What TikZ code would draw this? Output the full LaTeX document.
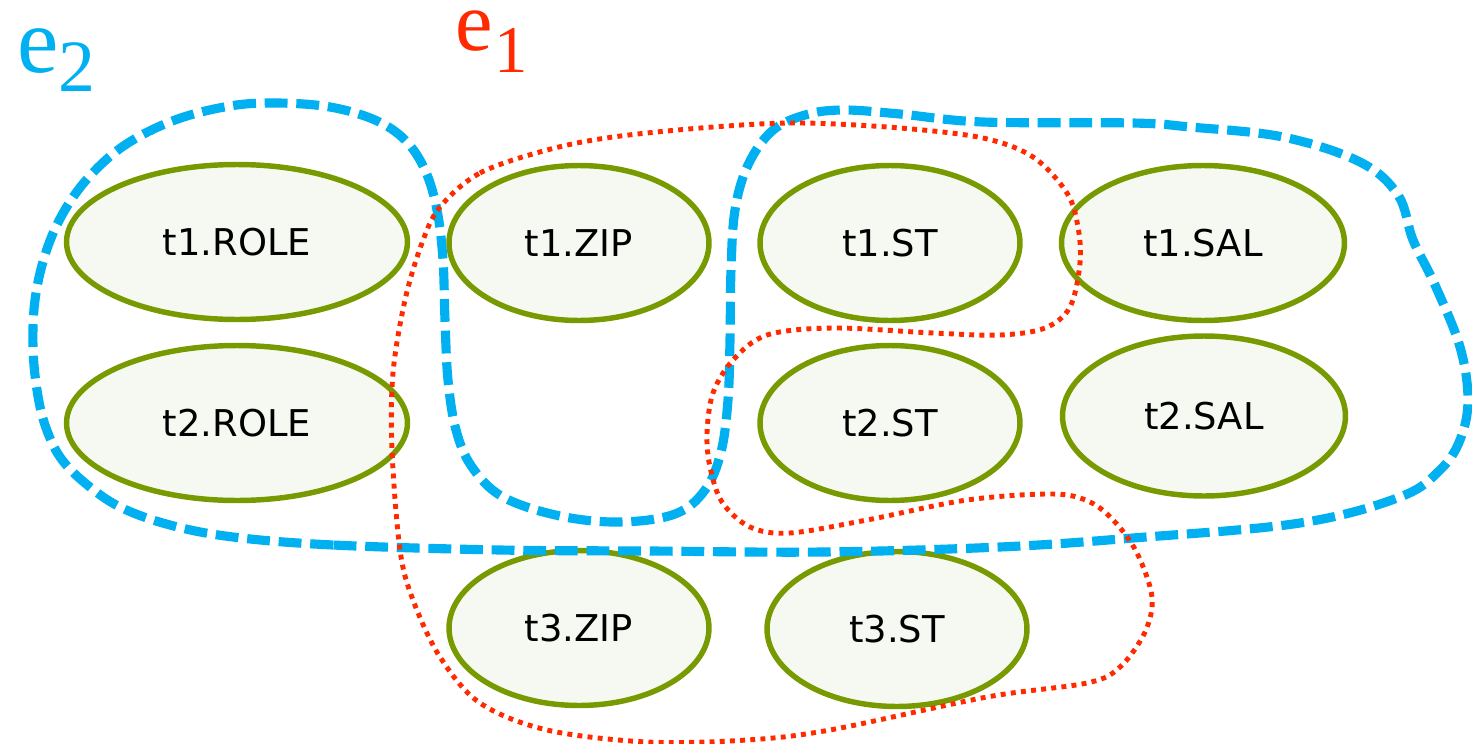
\documentclass[tikz,border=0pt]{standalone}
\usepackage{fontspec}
\setmainfont{DejaVu Sans}
\newfontfamily\serifface{Liberation Serif}
\usetikzlibrary{shapes.geometric}
\definecolor{olv}{HTML}{769A00}
\definecolor{ellfill}{HTML}{F6F9F1}
\definecolor{cyanb}{HTML}{00B0F0}
\definecolor{redd}{HTML}{FF2A00}
\begin{document}
\begin{tikzpicture}[x=0.02cm,y=-0.02cm,
  attr/.style={ellipse, draw=olv, fill=ellfill, line width=3.1pt, inner sep=0pt,
    minimum height=3.1cm, font=\fontsize{21}{24}\selectfont},
  wide/.style={minimum width=6.82cm},
  mid/.style={minimum width=5.2cm},
  sal/.style={minimum width=5.66cm},
  bluehyp/.style={draw=cyanb, line width=5.2pt, dash pattern=on 13pt off 5pt},
  redhyp/.style={draw=redd, line width=2.8pt, dash pattern=on 2.8pt off 3pt},
  lab/.style={anchor=base west, inner sep=0pt, font=\serifface\fontsize{53}{56}\selectfont}]
\useasboundingbox (0,0) rectangle (1472,744);

\node[attr, wide] (r1) at (237,242) {t1.ROLE};
\node[attr, wide] (r2) at (237,423) {t2.ROLE};
\node[attr, mid] (z1) at (579,243) {t1.ZIP};
\node[attr, mid] (s1) at (890,243) {t1.ST};
\node[attr, sal] (a1) at (1203,243) {t1.SAL};
\node[attr, mid] (s2) at (890,423) {t2.ST};
\node[attr, sal, minimum height=3.2cm] (a2) at (1204,416) {t2.SAL};
\node[attr, mid] (z3) at (579,628) {t3.ZIP};
\node[attr, mid] (s3) at (897,629) {t3.ST};

% e2 hyperedge (blue dashed)
\draw[bluehyp] plot[smooth cycle, tension=0.6] coordinates {
 (500,550) (333,545) (233,537) (170,525) (120,507) (85,483) (60,457) (45,425)
 (37,390) (33,347) (35,300) (45,255) (62,215) (88,178) (125,145) (175,120)
 (230,106) (277,103) (330,107) (375,120) (405,140) (425,170) (437,210)
 (443,260) (445,320) (448,380) (456,430) (472,467) (503,497) (560,516)
 (620,522) (675,514) (705,490) (721,452) (728,400) (730,340) (731,270)
 (735,210) (748,165) (772,131) (805,115) (843,110) (900,114) (983,122)
 (1133,123) (1190,127) (1283,137) (1360,162) (1398,195) (1413,240)
 (1435,285) (1460,347) (1468,400) (1460,440) (1440,470) (1400,497)
 (1300,523) (1133,538) (1000,547) (823,552) (650,551)};

% e1 hyperedge (red dotted)
\draw[redhyp] plot[smooth cycle, tension=0.55] coordinates {
 (440,207) (480,173) (547,150) (613,137) (713,127) (800,123) (900,128) (983,138)
 (1033,157) (1067,193) (1078,227) (1080,263) (1070,307) (1045,328) (1000,335)
 (933,333) (833,328) (767,335) (733,360) (713,393) (707,433) (710,467) (722,502)
 (750,527) (790,533) (867,520) (967,500) (1053,494) (1090,502) (1115,522)
 (1137,553) (1152,597) (1145,632) (1120,667) (1087,683) (987,697) (830,730) (747,740)
 (647,742) (547,730) (480,703) (440,657) (413,600) (400,550) (392,450) (393,373)
 (405,300) (422,243)};

\node[lab, text=cyanb] (e2) at (17,72) {e\raisebox{-11pt}{\fontsize{42}{44}\selectfont 2}};
\node[lab, text=redd, font=\serifface\fontsize{48}{50}\selectfont] (e1) at (455,50) {e\kern1pt\raisebox{-13pt}{\fontsize{38}{40}\selectfont 1}};
\end{tikzpicture}
\end{document}
